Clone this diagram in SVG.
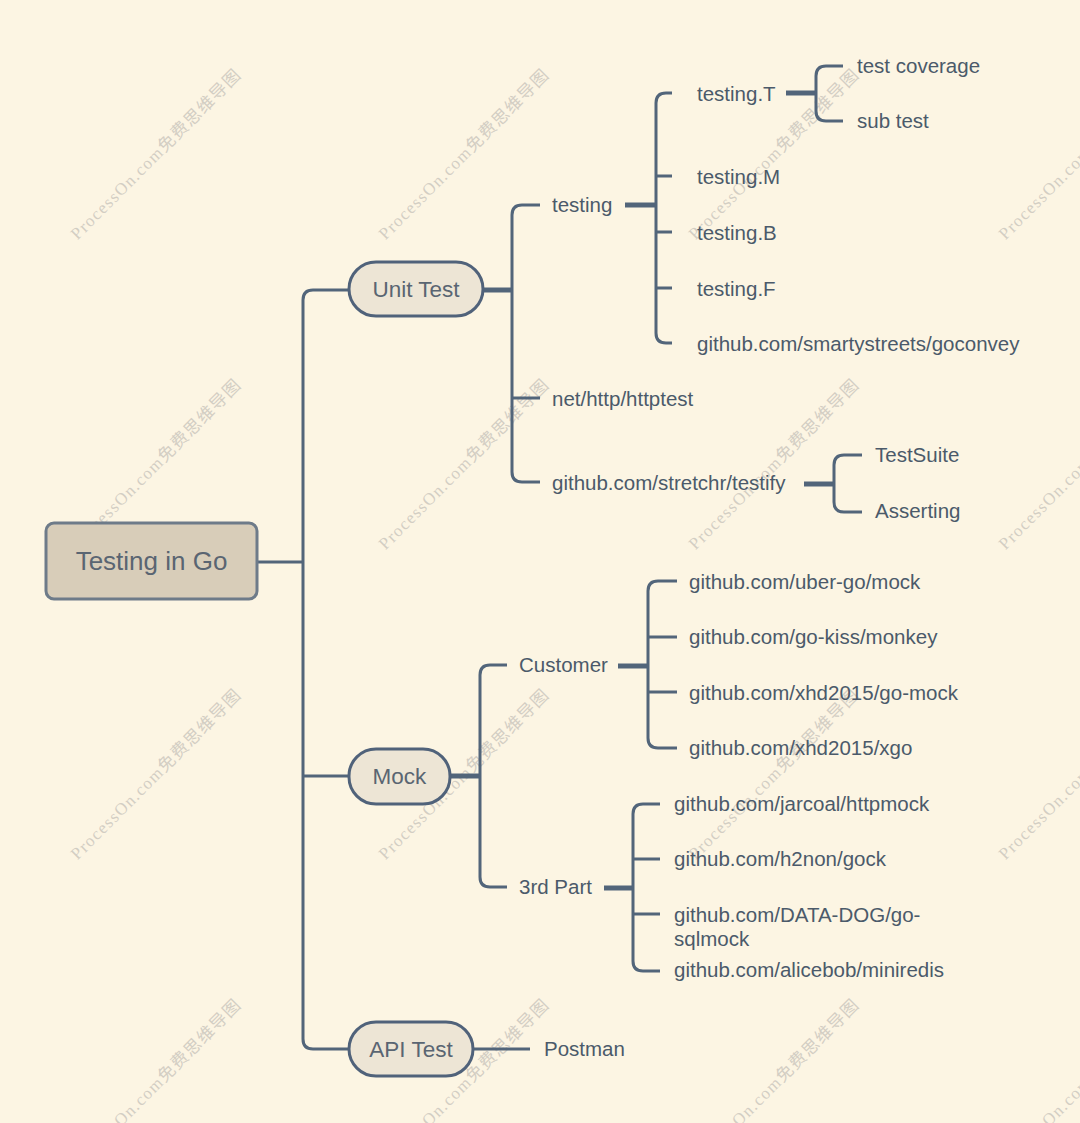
<svg xmlns="http://www.w3.org/2000/svg" width="1080" height="1123" viewBox="0 0 1080 1123">
<defs>
<style>
.wm{font-family:"Liberation Serif","Noto Sans CJK SC",serif;font-size:17px;fill:#d3cec3}
.ln{fill:none;stroke:#52657a;stroke-width:3;stroke-linecap:butt}
.th{fill:none;stroke:#52657a;stroke-width:5}
.root{fill:#d8cdb9;stroke:#6e7b89;stroke-width:3}
.pill{fill:#ede5d5;stroke:#50627a;stroke-width:3}
.rt{font-family:"Liberation Sans",Arial,sans-serif;font-size:26px;fill:#5a6572;dominant-baseline:central;text-anchor:middle}
.pt{font-family:"Liberation Sans",Arial,sans-serif;font-size:22.5px;fill:#5a6572;dominant-baseline:central;text-anchor:middle}
.lt{font-family:"Liberation Sans",Arial,sans-serif;font-size:20.5px;fill:#4b5a6a;dominant-baseline:central}
</style>
</defs>
<rect width="1080" height="1123" fill="#fcf5e3"/>
<g id="watermarks">
<text class="wm" transform="translate(156,155) rotate(-45)" x="-116" y="5" textLength="232" lengthAdjust="spacing">ProcessOn.com免费思维导图</text>
<text class="wm" transform="translate(464,155) rotate(-45)" x="-116" y="5" textLength="232" lengthAdjust="spacing">ProcessOn.com免费思维导图</text>
<text class="wm" transform="translate(774,155) rotate(-45)" x="-116" y="5" textLength="232" lengthAdjust="spacing">ProcessOn.com免费思维导图</text>
<text class="wm" transform="translate(1084,155) rotate(-45)" x="-116" y="5" textLength="232" lengthAdjust="spacing">ProcessOn.com免费思维导图</text>
<text class="wm" transform="translate(156,465) rotate(-45)" x="-116" y="5" textLength="232" lengthAdjust="spacing">ProcessOn.com免费思维导图</text>
<text class="wm" transform="translate(464,465) rotate(-45)" x="-116" y="5" textLength="232" lengthAdjust="spacing">ProcessOn.com免费思维导图</text>
<text class="wm" transform="translate(774,465) rotate(-45)" x="-116" y="5" textLength="232" lengthAdjust="spacing">ProcessOn.com免费思维导图</text>
<text class="wm" transform="translate(1084,465) rotate(-45)" x="-116" y="5" textLength="232" lengthAdjust="spacing">ProcessOn.com免费思维导图</text>
<text class="wm" transform="translate(156,775) rotate(-45)" x="-116" y="5" textLength="232" lengthAdjust="spacing">ProcessOn.com免费思维导图</text>
<text class="wm" transform="translate(464,775) rotate(-45)" x="-116" y="5" textLength="232" lengthAdjust="spacing">ProcessOn.com免费思维导图</text>
<text class="wm" transform="translate(774,775) rotate(-45)" x="-116" y="5" textLength="232" lengthAdjust="spacing">ProcessOn.com免费思维导图</text>
<text class="wm" transform="translate(1084,775) rotate(-45)" x="-116" y="5" textLength="232" lengthAdjust="spacing">ProcessOn.com免费思维导图</text>
<text class="wm" transform="translate(156,1085) rotate(-45)" x="-116" y="5" textLength="232" lengthAdjust="spacing">ProcessOn.com免费思维导图</text>
<text class="wm" transform="translate(464,1085) rotate(-45)" x="-116" y="5" textLength="232" lengthAdjust="spacing">ProcessOn.com免费思维导图</text>
<text class="wm" transform="translate(774,1085) rotate(-45)" x="-116" y="5" textLength="232" lengthAdjust="spacing">ProcessOn.com免费思维导图</text>
<text class="wm" transform="translate(1084,1085) rotate(-45)" x="-116" y="5" textLength="232" lengthAdjust="spacing">ProcessOn.com免费思维导图</text>
</g>
<g id="connectors">
<path class="ln" d="M257 562 H303"/>
<path class="ln" d="M350 290 H313 Q303 290 303 300 V1039 Q303 1049 313 1049 H350"/>
<path class="ln" d="M303 776 H350"/>
<path class="th" d="M483 290 H512"/>
<path class="ln" d="M540 205 H522 Q512 205 512 215 V472 Q512 482 522 482 H540"/>
<path class="ln" d="M512 398 H540"/>
<path class="th" d="M625 205 H656"/>
<path class="ln" d="M672 93 H666 Q656 93 656 103 V333 Q656 343 666 343 H672"/>
<path class="ln" d="M656 176 H672 M656 232 H672 M656 288 H672"/>
<path class="th" d="M786 93 H816"/>
<path class="ln" d="M843 66 H826 Q816 66 816 76 V111 Q816 121 826 121 H843"/>
<path class="th" d="M804 484 H834"/>
<path class="ln" d="M862 455 H844 Q834 455 834 465 V502 Q834 512 844 512 H862"/>
<path class="th" d="M450 776 H480"/>
<path class="ln" d="M507 665 H490 Q480 665 480 675 V877 Q480 887 490 887 H507"/>
<path class="th" d="M618 666 H648"/>
<path class="ln" d="M677 581 H658 Q648 581 648 591 V738 Q648 748 658 748 H677"/>
<path class="ln" d="M648 637 H677 M648 692 H677"/>
<path class="th" d="M604 888 H633"/>
<path class="ln" d="M660 804 H643 Q633 804 633 814 V961 Q633 971 643 971 H660"/>
<path class="ln" d="M633 859 H660 M633 914 H660"/>
<path class="ln" d="M473 1049 H530"/>
</g>
<g id="root"><rect class="root" x="46" y="523" width="211" height="76" rx="8"/><text class="rt" x="151.5" y="561">Testing in Go</text></g>
<g id="unit-test"><rect class="pill" x="349" y="262" width="134" height="54" rx="27"/><text class="pt" x="416" y="289">Unit Test</text></g>
<g id="mock"><rect class="pill" x="349" y="749" width="101" height="55" rx="27"/><text class="pt" x="399.5" y="776">Mock</text></g>
<g id="api-test"><rect class="pill" x="349" y="1022" width="124" height="54" rx="27"/><text class="pt" x="411" y="1049">API Test</text></g>
<g id="testing"><text class="lt" x="552" y="204">testing</text></g>
<g id="httptest"><text class="lt" x="552" y="398">net/http/httptest</text></g>
<g id="testify"><text class="lt" x="552" y="482">github.com/stretchr/testify</text></g>
<g id="testing-t"><text class="lt" x="697" y="93">testing.T</text></g>
<g id="testing-m"><text class="lt" x="697" y="176">testing.M</text></g>
<g id="testing-b"><text class="lt" x="697" y="232">testing.B</text></g>
<g id="testing-f"><text class="lt" x="697" y="288">testing.F</text></g>
<g id="goconvey"><text class="lt" x="697" y="343">github.com/smartystreets/goconvey</text></g>
<g id="test-coverage"><text class="lt" x="857" y="65">test coverage</text></g>
<g id="sub-test"><text class="lt" x="857" y="120">sub test</text></g>
<g id="testsuite"><text class="lt" x="875" y="454">TestSuite</text></g>
<g id="asserting"><text class="lt" x="875" y="510">Asserting</text></g>
<g id="customer"><text class="lt" x="519" y="664">Customer</text></g>
<g id="third-part"><text class="lt" x="519" y="886">3rd Part</text></g>
<g id="uber-mock"><text class="lt" x="689" y="581">github.com/uber-go/mock</text></g>
<g id="monkey"><text class="lt" x="689" y="636">github.com/go-kiss/monkey</text></g>
<g id="go-mock"><text class="lt" x="689" y="692">github.com/xhd2015/go-mock</text></g>
<g id="xgo"><text class="lt" x="689" y="747">github.com/xhd2015/xgo</text></g>
<g id="httpmock"><text class="lt" x="674" y="803">github.com/jarcoal/httpmock</text></g>
<g id="gock"><text class="lt" x="674" y="858">github.com/h2non/gock</text></g>
<g id="sqlmock"><text class="lt" x="674" y="914">github.com/DATA-DOG/go-</text><text class="lt" x="674" y="938">sqlmock</text></g>
<g id="miniredis"><text class="lt" x="674" y="969">github.com/alicebob/miniredis</text></g>
<g id="postman"><text class="lt" x="544" y="1048">Postman</text></g>
</svg>
